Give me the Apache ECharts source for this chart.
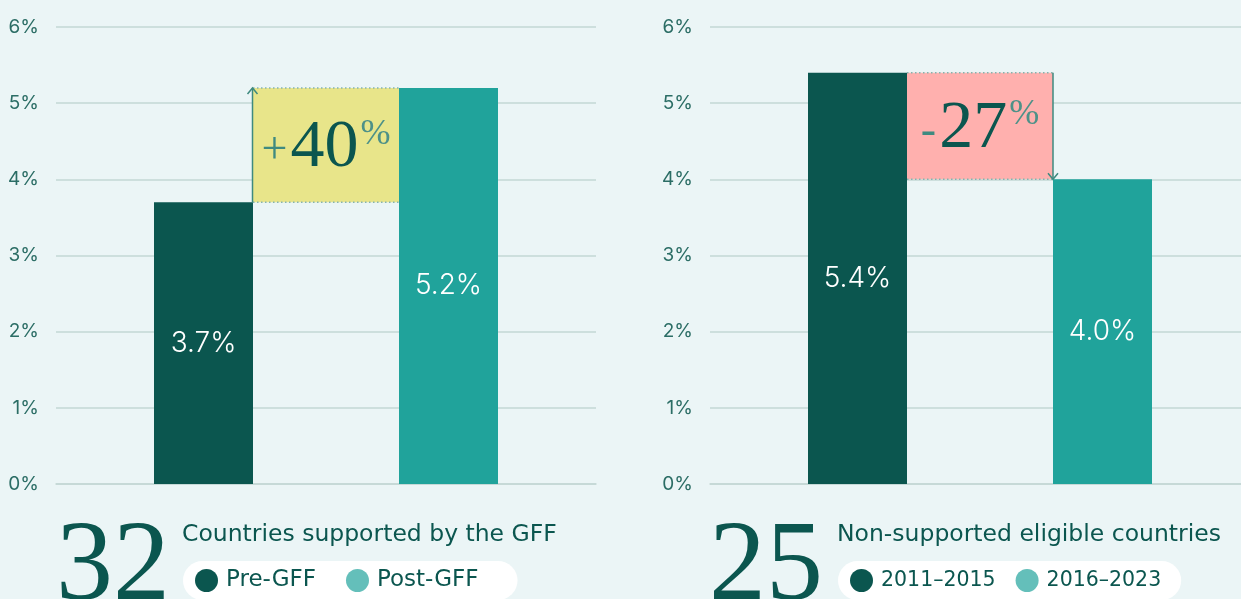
<!DOCTYPE html>
<html>
<head>
<meta charset="utf-8">
<script src="https://cdn.jsdelivr.net/npm/echarts@6/dist/echarts.min.js"></script>
<style>
  html, body { margin: 0; padding: 0; background: #EBF5F6; }
  #chart { width: 1241px; height: 599px; }
</style>
</head>
<body>
<div id="chart"></div>
<script>
// 数据
const yTicks = [0, 1, 2, 3, 4, 5, 6];
const leftNames = ['Pre-GFF', 'Post-GFF'];
const leftValues = [3.7, 5.2];
const leftChange = '+40';
const leftCount = '32';
const leftTitle = 'Countries supported by the GFF';

const rightNames = ['2011–2015', '2016–2023'];
const rightValues = [5.4, 4.0];
const rightChange = '-27';
const rightCount = '25';
const rightTitle = 'Non-supported eligible countries';

// 样式
const DARK = '#0B564F';
const TEAL = '#20A39B';
const LIGHT = '#64BFBA';
const SANS = 'Inter, "Noto Sans", sans-serif';
const WIDE = '"DejaVu Sans", sans-serif';
const SERIF = '"Liberation Serif", "DejaVu Serif", serif';
const GRID_LINE = '#C3D7D5';
const BAR_W = 99;
const BOX_W = 146;

const chart = echarts.init(document.getElementById('chart'));

function yAxisCfg(idx, visible) {
  return {
    type: 'value',
    gridIndex: idx,
    min: yTicks[0],
    max: yTicks[yTicks.length - 1],
    interval: 1,
    show: visible,
    axisLine: { show: false },
    axisTick: { show: false },
    axisLabel: { formatter: '{value}%', color: '#2B6D65', fontSize: 19, fontFamily: SANS, margin: 17 },
    splitLine: { show: visible, lineStyle: { color: GRID_LINE, width: 1.5 } }
  };
}

function xAxisCfg(idx, visible) {
  return {
    type: 'category', gridIndex: idx, data: [''], show: visible,
    axisLine: { lineStyle: { color: GRID_LINE, width: 1.5 } },
    axisTick: { show: false }, axisLabel: { show: false }
  };
}

function barLabel() {
  return {
    show: true,
    position: 'inside',
    color: '#fff',
    fontSize: 28,
    fontWeight: 300,
    fontFamily: SANS,
    formatter: p => p.value.toFixed(1) + '%'
  };
}

// 箭头 + 虚线
function arrowRender(side) {
  return function (params, api) {
    const from = api.coord([0, api.value(1)]);
    const to = api.coord([0, api.value(2)]);
    const x0 = from[0] - BOX_W / 2;
    const x1 = from[0] + BOX_W / 2;
    const ax = side === 'left' ? x0 - 0.5 : x1;
    const yTop = Math.min(from[1], to[1]);
    const yBot = Math.max(from[1], to[1]);
    const dir = to[1] < from[1] ? 1 : -1;
    const dot = { stroke: '#86B3AD', lineWidth: 1.5, lineDash: [1.5, 2.5] };
    const arr = { stroke: '#3E8A7F', lineWidth: 1.5, fill: null };
    return {
      type: 'group',
      children: [
        { type: 'line', shape: { x1: x0, y1: yTop, x2: x1, y2: yTop }, style: dot },
        { type: 'line', shape: { x1: x0, y1: yBot, x2: x1, y2: yBot }, style: dot },
        { type: 'line', shape: { x1: ax, y1: from[1], x2: ax, y2: to[1] }, style: arr },
        { type: 'polyline', shape: { points: [[ax - 5, to[1] + 6 * dir], [ax, to[1]], [ax + 5, to[1] + 6 * dir]] }, style: arr }
      ]
    };
  };
}

function panelSeries(idx, names, values, change, boxColor, side) {
  const lo = Math.min(values[0], values[1]);
  const diff = Math.abs(values[1] - values[0]);
  const sign = change.charAt(0);
  const num = change.slice(1);
  return [
    {
      name: names[0], type: 'bar', xAxisIndex: idx, yAxisIndex: idx,
      barWidth: BAR_W, barGap: '0%', z: 3,
      itemStyle: { color: DARK }, label: barLabel(), data: [values[0]]
    },
    {
      name: 'base' + idx, type: 'bar', stack: 'd' + idx, xAxisIndex: idx, yAxisIndex: idx,
      barWidth: BOX_W, barGap: '0%', silent: true,
      itemStyle: { color: 'transparent' }, data: [lo]
    },
    {
      name: 'delta' + idx, type: 'bar', stack: 'd' + idx, xAxisIndex: idx, yAxisIndex: idx,
      barWidth: BOX_W, barGap: '0%', z: 2, silent: true,
      itemStyle: { color: boxColor },
      label: {
        show: true, position: 'inside', offset: [0, 3],
        formatter: '{s|' + sign + '}{n|' + num + '}{p|%}',
        rich: {
          s: { fontFamily: SERIF, fontSize: 46, color: '#3F8A80', padding: [6, 3, 0, 0] },
          n: { fontFamily: SERIF, fontSize: 68, color: DARK, lineHeight: 64 },
          p: { fontFamily: SERIF, fontSize: 36, color: '#4E9188', verticalAlign: 'top', padding: [0, 0, 0, 2] }
        }
      },
      data: [diff]
    },
    {
      name: names[1], type: 'bar', xAxisIndex: idx, yAxisIndex: idx,
      barWidth: BAR_W, barGap: '0%', z: 3,
      itemStyle: { color: TEAL }, label: barLabel(), data: [values[1]]
    },
    {
      type: 'custom', xAxisIndex: idx, yAxisIndex: idx, z: 4, silent: true,
      renderItem: arrowRender(side),
      data: [[0, values[0], values[1]]]
    }
  ];
}

function legendCfg(names, left, fontSize, gap, padRight) {
  return {
    left: left, top: 561,
    selectedMode: false,
    icon: 'circle', itemWidth: 23, itemHeight: 23, itemGap: gap,
    backgroundColor: '#fff', borderRadius: 20,
    padding: [8, padRight, 8, 12],
    textStyle: { fontSize: fontSize, color: DARK, fontFamily: WIDE, padding: [0, 0, 0, 3] },
    data: [
      { name: names[0], itemStyle: { color: DARK } },
      { name: names[1], itemStyle: { color: LIGHT } }
    ]
  };
}

function bigText(text, x, title, tx) {
  return [
    { type: 'text', x: x, y: 512, style: { text: text, font: '114px ' + SERIF, fill: DARK, verticalAlign: 'top' } },
    { type: 'text', x: tx, y: 535, style: { text: title, font: '23.5px ' + WIDE, fill: DARK, verticalAlign: 'middle' } }
  ];
}

const option = {
  backgroundColor: '#EBF5F6',
  animation: false,
  grid: [
    { left: 56, top: 27, width: 540, height: 457 },
    { left: 710, top: 27, right: 0, height: 457 },
    // 右侧柱子的网格 (画布外延 9px 的居中效果)
    { left: 719, top: 27, right: 0, height: 457 }
  ],
  xAxis: [xAxisCfg(0, true), xAxisCfg(1, true), xAxisCfg(2, false)],
  yAxis: [yAxisCfg(0, true), yAxisCfg(1, true), yAxisCfg(2, false)],
  legend: [
    legendCfg(leftNames, 183, 23, 30, 39),
    legendCfg(rightNames, 838, 20.5, 20, 20)
  ],
  graphic: bigText(leftCount, 56, leftTitle, 182).concat(bigText(rightCount, 709, rightTitle, 837)),
  series: panelSeries(0, leftNames, leftValues, leftChange, '#E8E58A', 'left')
    .concat(panelSeries(2, rightNames, rightValues, rightChange, '#FFB0AE', 'right'))
};

chart.setOption(option);
</script>
</body>
</html>
